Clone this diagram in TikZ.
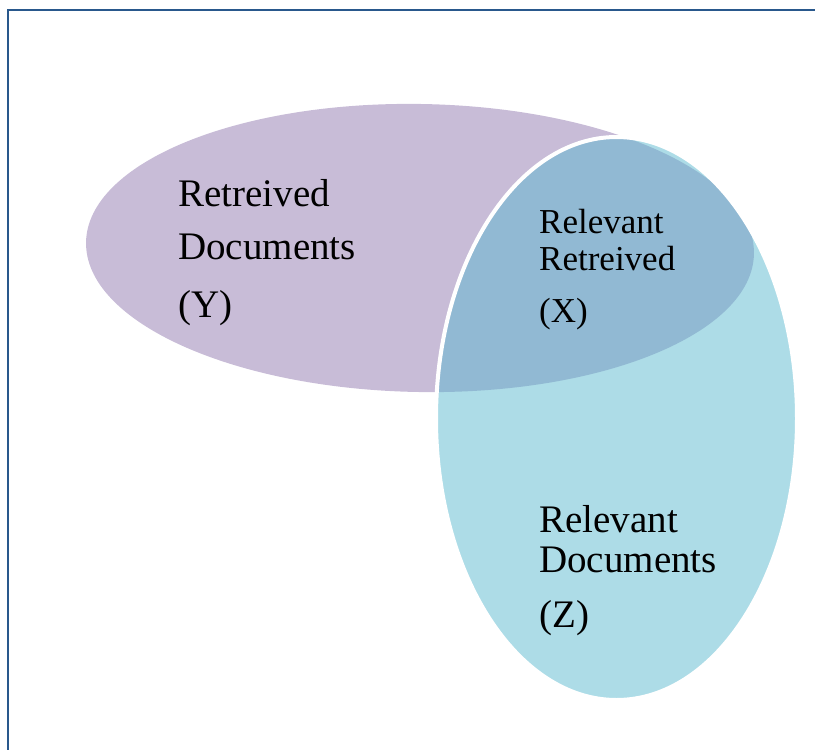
\documentclass[tikz,border=0pt]{standalone}
\usepackage{fontspec}
\setmainfont{Liberation Serif}
\definecolor{framecol}{RGB}{41,88,140}
\definecolor{retrcol}{RGB}{200,188,215}
\definecolor{relcol}{RGB}{173,220,231}
\definecolor{bothcol}{RGB}{145,185,211}
\tikzset{
  bigtext/.style={anchor=base west, inner sep=0pt, font=\fontsize{39}{39}\selectfont},
  midtext/.style={anchor=base west, inner sep=0pt, font=\fontsize{35}{35}\selectfont},
}
% outlines of the two sets
\newcommand{\retrpath}{(420,248) ellipse [x radius=334, y radius=144, rotate=-1]}
\newcommand{\relpath}{(616.5,418.5) ellipse [x radius=180.5, y radius=281.5]}
\begin{document}
\begin{tikzpicture}[x=1pt, y=-1pt]
  \useasboundingbox (0,0) rectangle (815,750);
  % outer frame (left and top edges)
  \draw[framecol, line width=2pt] (7.8,750) -- (7.8,10) -- (815,10);

  % retrieved set
  \fill[retrcol] \retrpath;
  % relevant set
  \fill[relcol] \relpath;
  % intersection
  \begin{scope}
    \clip \retrpath;
    \fill[bothcol] \relpath;
  \end{scope}
  % white rim of the relevant set
  \draw[white, line width=4pt] \relpath;

  % labels
  \node[bigtext] (y1) at (178,206) {Retreived};
  \node[bigtext] (y2) at (178,259) {Documents};
  \node[bigtext] (y3) at (178,317) {(Y)};

  \node[midtext] (x1) at (539,233) {Relevant};
  \node[midtext] (x2) at (539,270) {Retreived};
  \node[midtext] (x3) at (539,322) {(X)};

  \node[bigtext] (z1) at (539,532) {Relevant};
  \node[bigtext] (z2) at (539,572) {Documents};
  \node[bigtext] (z3) at (539,627) {(Z)};
\end{tikzpicture}
\end{document}
